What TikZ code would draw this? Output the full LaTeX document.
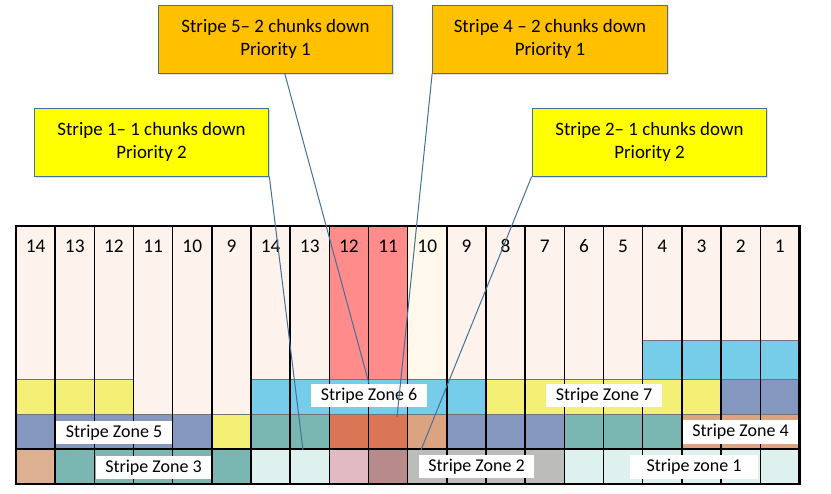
\documentclass[tikz,border=0pt]{standalone}
\usepackage{fontspec}
\setmainfont{Carlito}
\usetikzlibrary{shadows}
\definecolor{calloutline}{HTML}{41719C}
\definecolor{prio1}{HTML}{FFC000}
\definecolor{prio2}{HTML}{FFFF00}
\definecolor{colbg}{HTML}{FDF3EC}
\definecolor{colred}{HTML}{FF8B8B}
\definecolor{colcream}{HTML}{FFF8EB}
\definecolor{zyellow}{HTML}{F3F075}
\definecolor{zblue}{HTML}{75CDEA}
\definecolor{zslate}{HTML}{8497BF}
\definecolor{zteal}{HTML}{7AB6B2}
\definecolor{zrust}{HTML}{DA7556}
\definecolor{ztan}{HTML}{DBA37F}
\definecolor{zpeach}{HTML}{DDB092}
\definecolor{zice}{HTML}{DEF1EF}
\definecolor{zpink}{HTML}{E1BBC1}
\definecolor{zmauve}{HTML}{B78A8B}
\definecolor{zgrey}{HTML}{BCBCBA}
% one coloured run of chunks: colour, first column, last column, row
\newcommand{\chunkrow}[4]{%
  \filldraw[fill=#1, draw=black!55, line width=.6pt] ({16+39.17*#2},{449-35*#4}) rectangle ({16+39.17*(#3+1)},{484-35*#4});}
\begin{document}
\begin{tikzpicture}[x=.75pt, y=-.75pt,
  callout/.style={draw=calloutline, line width=.75pt, align=center, minimum width=176pt, minimum height=51pt,
    font=\fontsize{14.2}{17.5}\selectfont, drop shadow={opacity=.25, shadow xshift=1.2pt, shadow yshift=-1.2pt}},
  zonelabel/.style={fill=white, inner xsep=7pt, inner ysep=0pt, minimum height=17.5pt, font=\fontsize{13.5}{16}\selectfont},
  colline/.style={line width=1.1pt},
  leader/.style={draw=calloutline, line width=.75pt}]
\useasboundingbox (0,0) rectangle (831,493);

% callouts
\node[callout, fill=prio1] (s5) at (275.5,39) {Stripe 5– 2 chunks down\\Priority 1};
\node[callout, fill=prio1] (s4) at (550,39) {Stripe 4 – 2 chunks down\\Priority 1};
\node[callout, fill=prio2] (s1) at (151.5,142) {Stripe 1– 1 chunks down\\Priority 2};
\node[callout, fill=prio2] (s2) at (649.5,142) {Stripe 2– 1 chunks down\\Priority 2};

% columns
\fill[colbg] (16,226) rectangle (799.4,484);
\fill[colred] ({16+39.17*8},226) rectangle ({16+39.17*10},484);
\fill[colcream] ({16+39.17*10},226) rectangle ({16+39.17*11},484);

% chunks, bottom row first
\chunkrow{zpeach}{0}{0}{0}
\chunkrow{zteal}{1}{5}{0}
\chunkrow{zice}{6}{7}{0}
\chunkrow{zpink}{8}{8}{0}
\chunkrow{zmauve}{9}{9}{0}
\chunkrow{zgrey}{10}{13}{0}
\chunkrow{zice}{14}{19}{0}
\chunkrow{zslate}{0}{4}{1}
\chunkrow{zyellow}{5}{5}{1}
\chunkrow{zteal}{6}{7}{1}
\chunkrow{zrust}{8}{9}{1}
\chunkrow{ztan}{10}{10}{1}
\chunkrow{zslate}{11}{13}{1}
\chunkrow{zteal}{14}{16}{1}
\chunkrow{ztan}{17}{19}{1}
\chunkrow{zyellow}{0}{2}{2}
\chunkrow{zblue}{6}{11}{2}
\chunkrow{zyellow}{12}{17}{2}
\chunkrow{zslate}{18}{19}{2}
\filldraw[fill=zblue, draw=black!55, line width=.6pt] ({16+39.17*16},340) rectangle ({16+39.17*20},379);

% grid lines
\foreach \i in {1,...,19}
  \draw[colline] ({16+39.17*\i},226) -- ({16+39.17*\i},484);
\draw[line width=2pt] ({16+39.17*6},226) -- ({16+39.17*6},484);
\draw[colline] (16,449) -- (799.4,449);
\draw[line width=2pt] (16,226) rectangle (799.4,484);

\foreach \n [count=\i from 0] in {14,13,12,11,10,9,14,13,12,11,10,9,8,7,6,5,4,3,2,1}
  \node[font=\fontsize{14.5}{16}\selectfont] (n\i) at ({16+39.17*(\i+.5)},246) {\n};

% zone labels
\node[zonelabel] (z5) at (114,432.5) {Stripe Zone 5};
\node[zonelabel] (z3) at (153.5,467.5) {Stripe Zone 3};
\node[zonelabel] (z6) at (369,395.5) {Stripe Zone 6};
\node[zonelabel] (z7) at (604,395.5) {Stripe Zone 7};
\node[zonelabel] (z4) at (740.5,432) {Stripe Zone 4};
\node[zonelabel] (z2) at (476.5,466.5) {Stripe Zone 2};
\node[zonelabel, minimum width=96pt] (z1) at (694,467) {Stripe zone 1};

% leaders
\coordinate (t1) at (303,450);
\coordinate (t4) at (397,417);
\coordinate (t2) at (421,450);
\draw[leader] (s1.south east) -- (t1);
\draw[leader] (s5.-75) -- (z6.north);
\draw[leader] (s4.south west) -- (t4);
\draw[leader] (s2.south west) -- (t2);
\end{tikzpicture}
\end{document}
